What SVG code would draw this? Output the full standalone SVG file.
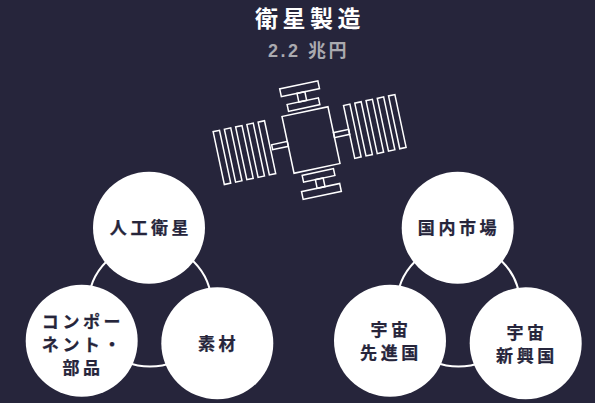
<svg xmlns="http://www.w3.org/2000/svg" width="595" height="403" viewBox="0 0 595 403">
<style>
text{font-family:"Noto Sans CJK JP","Noto Sans",sans-serif;font-weight:700;text-anchor:middle}
.t{font-size:17px;letter-spacing:3.600px;fill:#26253b;stroke:#26253b;stroke-width:.25}
.n{fill:#fff}
.r{fill:none;stroke:#fff;stroke-width:2}
.s rect{fill:none;stroke:#fff;stroke-width:1.500}
</style>
<rect width="595" height="403" fill="#26253b"/>
<text x="310" y="27" font-size="23" letter-spacing="4.500" fill="#fff">衛星製造</text>
<text x="308.500" y="57" font-size="18" letter-spacing="2.500" fill="#aaaaaf"><tspan font-family="Liberation Sans">2.2 </tspan>兆円</text>
<g id="satellite" class="s" transform="translate(311 140) rotate(-12)">
<rect x="-23.500" y="-29" width="47" height="58"/>
<rect x="-16" y="-39.700" width="32" height="7"/>
<rect x="-4" y="-48.500" width="8" height="8.800"/>
<rect x="-20" y="-56.500" width="39" height="8"/>
<rect x="-16" y="32.700" width="32" height="7"/>
<rect x="-4" y="39.700" width="8" height="8.800"/>
<rect x="-20" y="48.500" width="39" height="8"/>
<rect x="23.500" y="-2.500" width="15.500" height="5"/>
<rect x="-39.500" y="-3.500" width="16" height="5"/>
<rect x="39" y="-27" width="6.500" height="54"/><rect x="50.500" y="-27" width="6.500" height="54"/><rect x="62" y="-27" width="6.500" height="54"/><rect x="73.500" y="-27" width="6.500" height="54"/><rect x="85" y="-27" width="6.500" height="54"/>
<rect x="-94" y="-28.500" width="6.500" height="54"/><rect x="-82.500" y="-28.500" width="6.500" height="54"/><rect x="-71" y="-28.500" width="6.500" height="54"/><rect x="-59.500" y="-28.500" width="6.500" height="54"/><rect x="-48" y="-28.500" width="6.500" height="54"/>
</g>
<g id="connectors">
<circle class="r" cx="150" cy="305" r="61.600"/>
<circle class="r" cx="458.500" cy="305" r="61.600"/>
</g>
<g id="n1"><circle class="n" cx="149" cy="227.700" r="56"/><text class="t" x="151" y="234">人工衛星</text></g>
<g id="n2"><circle class="n" cx="81.700" cy="340.700" r="56"/><text class="t" x="83" y="327.500">コンポー</text><text class="t" x="83" y="350.500">ネント・</text><text class="t" x="83" y="373.500">部品</text></g>
<g id="n3"><circle class="n" cx="217.300" cy="343.300" r="56"/><text class="t" x="218.500" y="350">素材</text></g>
<g id="n4"><circle class="n" cx="457.700" cy="227.700" r="56"/><text class="t" x="459" y="234">国内市場</text></g>
<g id="n5"><circle class="n" cx="390" cy="340.700" r="56"/><text class="t" x="391" y="336">宇宙</text><text class="t" x="391" y="359">先進国</text></g>
<g id="n6"><circle class="n" cx="525.700" cy="343.300" r="56"/><text class="t" x="527" y="338.500">宇宙</text><text class="t" x="527" y="361.500">新興国</text></g>
</svg>
